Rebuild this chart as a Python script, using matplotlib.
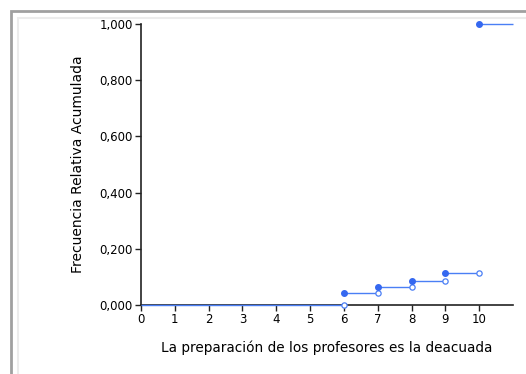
import matplotlib.pyplot as plt
from matplotlib.patches import Rectangle

# data: cumulative relative frequency (step function)
valores = [6, 7, 8, 9, 10]
frec_acum = [0.043, 0.064, 0.086, 0.113, 1.0]
x_max = 11
xticks = list(range(0, 11))
yticks = [0, 0.2, 0.4, 0.6, 0.8, 1.0]

plt.rcParams['font.family'] = ['DejaVu Sans']
azul = '#4a7ff5'
azul_pt = '#3568f0'

fig = plt.figure(figsize=(5.26, 3.74), dpi=100)
ax = fig.add_axes([141 / 526, 1 - 305 / 374, (513 - 141) / 526, (305 - 24) / 374])

# frame around the figure
fig.patches.append(Rectangle((11 / 526, -0.1), 2, 1 - 11 / 374 + 0.1, transform=fig.transFigure,
                             fill=False, edgecolor='#a0a0a0', lw=2))
fig.patches.append(Rectangle((18 / 526, -0.1), 2, 1 - 18 / 374 + 0.1, transform=fig.transFigure,
                             fill=False, edgecolor='#ececec', lw=1.5))

# horizontal segments
starts = [0] + valores
ends = valores + [x_max]
levels = [0] + frec_acum
for x0, x1, y in zip(starts, ends, levels):
    ax.plot([x0, x1], [y, y], color=azul, lw=1.0, solid_capstyle='butt', zorder=5,
            clip_on=False)
# open circles at segment ends (not for the last one)
ax.plot(valores, levels[:-1], 'o', ms=3.8, mfc='white', mec=azul, mew=0.9, zorder=6, clip_on=False)
# filled points
ax.plot(valores, frec_acum, 'o', ms=4, color=azul_pt, zorder=7, clip_on=False)

ax.set_xlim(0, x_max)
ax.set_ylim(0, 1)
ax.set_xticks(xticks)
ax.set_yticks(yticks)
ax.set_yticklabels([f'{v:.3f}'.replace('.', ',') for v in yticks])
ax.tick_params(labelsize=8.5, length=4, width=1, color='#222222', pad=2)
for s in ['top', 'right']:
    ax.spines[s].set_visible(False)
for s in ['left', 'bottom']:
    ax.spines[s].set_color('#222222')
    ax.spines[s].set_linewidth(1.2)

ax.set_xlabel('La preparación de los profesores es la deacuada', fontsize=9.8, labelpad=10)
ax.set_ylabel('Frecuencia Relativa Acumulada', fontsize=10, labelpad=10)

fig.savefig('out.png', dpi=100)
